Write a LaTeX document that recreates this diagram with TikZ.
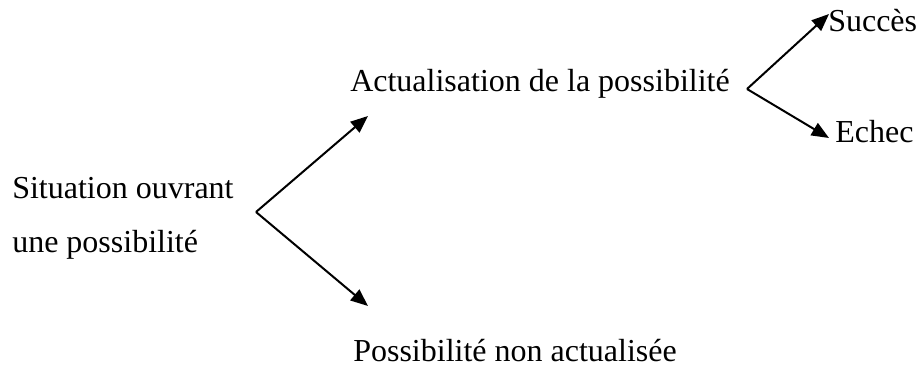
\documentclass[tikz,border=0pt]{standalone}
\usepackage{fontspec}
\setmainfont{Liberation Serif}
\usetikzlibrary{arrows.meta}

\begin{document}
\begin{tikzpicture}[x=0.75pt, y=-0.75pt,
    texte/.style={anchor=base west, inner sep=0pt, font=\fontsize{24}{29}\selectfont},
    fleche/.style={-{Triangle[length=13pt, width=10.5pt]}, line width=1.5pt}]
        \useasboundingbox (0,0) rectangle (919,370);
        % textes
        \node[texte] (sit1) at (12,199) {Situation ouvrant};
        \node[texte] (sit2) at (12,252) {une possibilité};
        \node[texte] (actu) at (350,92) {Actualisation de la possibilité};
        \node[texte] (nonactu) at (353,361) {Possibilité non actualisée};
        \node[texte] (succes) at (828,32) {Succès};
        \node[texte] (echec) at (835,143) {Echec};
        % embranchements
        \coordinate (f1) at (256,212);
        \coordinate (f1h) at (368,116);
        \coordinate (f1b) at (368,306);
        \coordinate (f2) at (747,89);
        \coordinate (f2h) at (829,14);
        \coordinate (f2b) at (829,138);
        \draw[fleche] (f1) -- (f1h);
        \draw[fleche] (f1) -- (f1b);
        \draw[fleche] (f2) -- (f2h);
        \draw[fleche] (f2) -- (f2b);
      \end{tikzpicture}
\end{document}
